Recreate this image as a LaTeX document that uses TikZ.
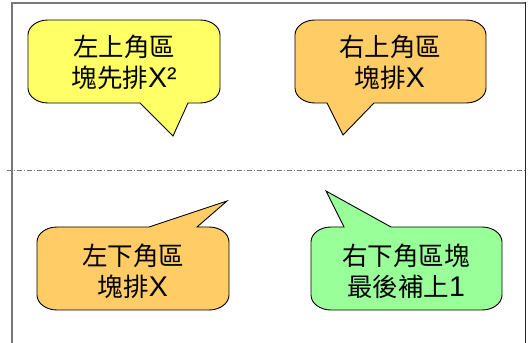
\documentclass[tikz,border=0pt]{standalone}
\usepackage{fontspec}
\newfontfamily\cjk{Noto Sans CJK TC}
\newfontfamily\lat{Liberation Sans}
\newcommand{\latbig}{\lat\fontsize{28.5}{31}\selectfont}
\definecolor{byellow}{HTML}{FFFF66}
\definecolor{borange}{HTML}{FFCC66}
\definecolor{bgreen}{HTML}{99FF99}
\definecolor{framegray}{HTML}{777777}
\tikzset{
  bubble/.style={draw=black, line width=0.9pt, line join=miter},
  btext/.style={align=center, inner sep=0pt, font=\cjk\fontsize{25.5}{31}\selectfont},
  rc/.style={x radius=20, y radius=15}
}
\begin{document}
\begin{tikzpicture}[x=1pt,y=1pt]
\useasboundingbox (0,0) rectangle (528,343);
% frame
\draw[framegray, line width=1.6pt] (12,0) -- (12,340) -- (525,340);
\draw[black!85, line width=1.4pt] (525.5,340.8) -- (525.5,0);
\draw[framegray, line width=0.8pt, dash pattern=on 5pt off 2pt on 1pt off 2pt] (7,173) -- (525,173);
% bubble 1 (yellow, top-left)
\draw[bubble, fill=byellow] (173,207) -- (140,240) -- (48,240)
  arc[start angle=270, end angle=180, rc] -- (28,308)
  arc[start angle=180, end angle=90, rc] -- (200,323)
  arc[start angle=90, end angle=0, rc] -- (220,255)
  arc[start angle=0, end angle=-90, rc] -- (188,240) -- cycle;
% bubble 2 (orange, top-right)
\draw[bubble, fill=borange] (343,208) -- (327,240) -- (315,240)
  arc[start angle=270, end angle=180, rc] -- (295,308)
  arc[start angle=180, end angle=90, rc] -- (466,323)
  arc[start angle=90, end angle=0, rc] -- (486,255)
  arc[start angle=0, end angle=-90, rc] -- (374,240) -- cycle;
% bubble 3 (orange, bottom-left)
\draw[bubble, fill=borange] (227,142) -- (197,116) -- (209,116)
  arc[start angle=90, end angle=0, rc] -- (229,48)
  arc[start angle=0, end angle=-90, rc] -- (57,33)
  arc[start angle=270, end angle=180, rc] -- (37,101)
  arc[start angle=180, end angle=90, rc] -- (149,116) -- cycle;
% bubble 4 (green, bottom-right)
\draw[bubble, fill=bgreen] (326,152) -- (344,116) -- (331,116)
  arc[start angle=90, end angle=180, rc] -- (311,48)
  arc[start angle=180, end angle=270, rc] -- (482,33)
  arc[start angle=-90, end angle=0, rc] -- (502,101)
  arc[start angle=0, end angle=90, rc] -- (391,116) -- cycle;
% texts
\node[btext] (t1) at (124,281) {左上角區\\塊先排{\latbig X²}};
\node[btext] (t2) at (390,281) {右上角區\\塊排{\latbig X}};
\node[btext] (t3) at (133,72) {左下角區\\塊排{\latbig X}};
\node[btext] (t4) at (406,72) {右下角區塊\\最後補上{\latbig 1}};
\end{tikzpicture}
\end{document}
